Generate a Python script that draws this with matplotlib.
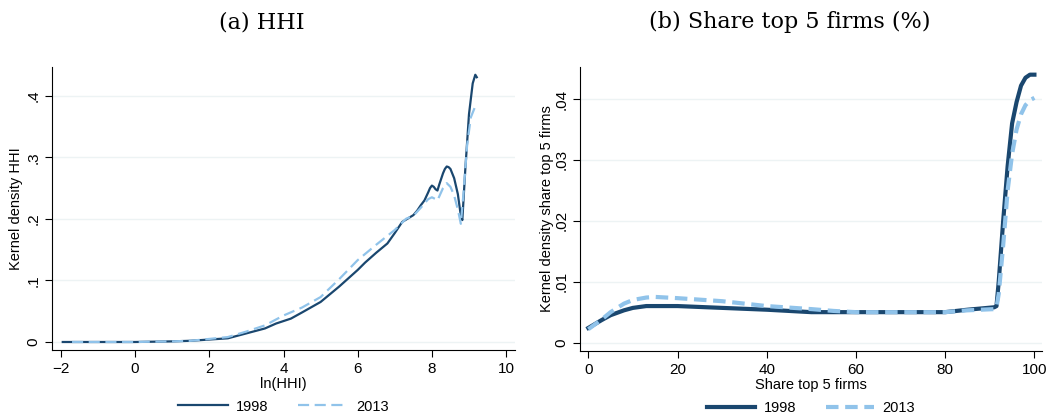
import numpy as np
import matplotlib
matplotlib.use('Agg')
from matplotlib import pyplot as plt

plt.rcParams['font.family'] = ['Liberation Sans', 'DejaVu Sans']

# Panel (a): kernel density of ln(HHI)
hhi_x_1998 = [-1.95, -1, 0, 1, 1.5, 2, 2.5, 3, 3.5, 3.8, 4, 4.2, 4.5, 5, 5.5, 6, 6.2,
              6.5, 6.8, 7, 7.2, 7.5, 7.6, 7.7, 7.8, 7.9, 7.95, 8.0, 8.05, 8.1, 8.15,
              8.2, 8.3, 8.35, 8.4, 8.45, 8.5, 8.6, 8.7, 8.78, 8.82, 8.9, 9.0, 9.1,
              9.17, 9.21]
hhi_y_1998 = [0, 0, 0, 0.001, 0.002, 0.004, 0.006, 0.014, 0.022, 0.03, 0.034, 0.038,
              0.048, 0.065, 0.09, 0.117, 0.129, 0.145, 0.16, 0.177, 0.195, 0.206,
              0.213, 0.222, 0.23, 0.243, 0.25, 0.254, 0.252, 0.248, 0.246, 0.256,
              0.274, 0.281, 0.285, 0.284, 0.281, 0.266, 0.24, 0.205, 0.198, 0.28,
              0.37, 0.42, 0.434, 0.43]
hhi_x_2013 = [-1.7, -1, 0, 1, 1.5, 2, 2.5, 3, 3.5, 4, 4.5, 5, 5.5, 6, 6.5, 7, 7.3,
              7.5, 7.7, 7.9, 8.0, 8.1, 8.15, 8.3, 8.4, 8.5, 8.6, 8.7, 8.78, 8.85,
              8.95, 9.05, 9.15, 9.23]
hhi_y_2013 = [0, 0, 0, 0.001, 0.002, 0.005, 0.008, 0.017, 0.027, 0.043, 0.056,
              0.073, 0.102, 0.133, 0.158, 0.182, 0.2, 0.205, 0.218, 0.232, 0.235,
              0.232, 0.23, 0.25, 0.258, 0.252, 0.238, 0.215, 0.192, 0.24, 0.32,
              0.365, 0.38, 0.378]

# Panel (b): kernel density of share of top 5 firms
share_x = [0, 3, 5, 8, 10, 13, 15, 20, 30, 40, 50, 55, 60, 70, 80, 85, 91, 91.5, 92,
           93, 94, 95, 96, 97, 98, 99, 100]
share_1998 = [0.0024, 0.0037, 0.0045, 0.0053, 0.0057, 0.006, 0.006, 0.006, 0.0057,
              0.0054, 0.005, 0.005, 0.005, 0.005, 0.005, 0.0054, 0.0058, 0.006, 0.01,
              0.02, 0.029, 0.036, 0.0395, 0.0422, 0.0435, 0.044, 0.044]
share_2013 = [0.0022, 0.0038, 0.005, 0.0064, 0.007, 0.0074, 0.0075, 0.0073, 0.0068,
              0.006, 0.0055, 0.0052, 0.005, 0.005, 0.005, 0.0053, 0.0055, 0.0058,
              0.008, 0.016, 0.025, 0.031, 0.035, 0.0375, 0.039, 0.0398, 0.0402]

navy = '#1a476f'
light = '#90c3ea'
grid_c = '#edf3f4'

fig = plt.figure(figsize=(10.47, 4.16), dpi=100)
ax1 = fig.add_axes([52 / 1047, 1 - 350 / 416, 463 / 1047, 283 / 416])
ax2 = fig.add_axes([580 / 1047, 1 - 351 / 416, 462 / 1047, 284 / 416])


def style(ax):
    for s in ['top', 'right']:
        ax.spines[s].set_visible(False)
    for s in ['left', 'bottom']:
        ax.spines[s].set_color('black')
        ax.spines[s].set_linewidth(0.8)
    ax.grid(axis='y', color=grid_c, linewidth=1)
    ax.set_axisbelow(True)
    ax.tick_params(direction='out', length=5, width=0.8, labelsize=11)
    for lbl in ax.get_yticklabels():
        lbl.set_rotation(90)
        lbl.set_va('center')


ax1.plot(hhi_x_1998, hhi_y_1998, color=navy, lw=1.6, label='1998',
         solid_joinstyle='round')
ax1.plot(hhi_x_2013, hhi_y_2013, color=light, lw=1.6, ls=(0, (5, 2.5)), label='2013')
ax1.set_xlim(-2.24, 10.24)
ax1.set_ylim(-0.013, 0.4466)
ax1.set_xticks([-2, 0, 2, 4, 6, 8, 10])
ax1.set_yticks([0, 0.1, 0.2, 0.3, 0.4])
ax1.set_yticklabels(['0', '.1', '.2', '.3', '.4'])
ax1.set_xlabel('ln(HHI)', fontsize=10.5, labelpad=1)
ax1.set_ylabel('Kernel density HHI', fontsize=10.5, labelpad=2)
style(ax1)
ax1.legend(loc='center', bbox_to_anchor=(0.5, -0.2), ncol=2, frameon=False,
           fontsize=10.5, handlelength=3.4, columnspacing=2, handletextpad=0.6)

ax2.plot(share_x, share_1998, color=navy, lw=3, label='1998', solid_joinstyle='round')
ax2.plot(share_x, share_2013, color=light, lw=3, ls=(0, (3, 1.6)), label='2013')
ax2.set_xlim(-1.86, 101.7)
ax2.set_ylim(-0.00138, 0.04526)
ax2.set_xticks([0, 20, 40, 60, 80, 100])
ax2.set_yticks([0, 0.01, 0.02, 0.03, 0.04])
ax2.set_yticklabels(['0', '.01', '.02', '.03', '.04'])
ax2.set_xlabel('Share top 5 firms', fontsize=10.5, labelpad=1)
ax2.set_ylabel('Kernel density share top 5 firms', fontsize=10.5, labelpad=0)
style(ax2)
ax2.legend(loc='center', bbox_to_anchor=(0.5, -0.2), ncol=2, frameon=False,
           fontsize=10.5, handlelength=3.3, columnspacing=2, handletextpad=0.6)

fig.text(262 / 1047, 1 - 22 / 416, '(a) HHI', family='DejaVu Serif', fontsize=16,
         ha='center', va='center')
fig.text(790 / 1047, 1 - 22 / 416, '(b) Share top 5 firms (%)', family='DejaVu Serif',
         fontsize=16, ha='center', va='center')

fig.savefig('out.png', dpi=100)
